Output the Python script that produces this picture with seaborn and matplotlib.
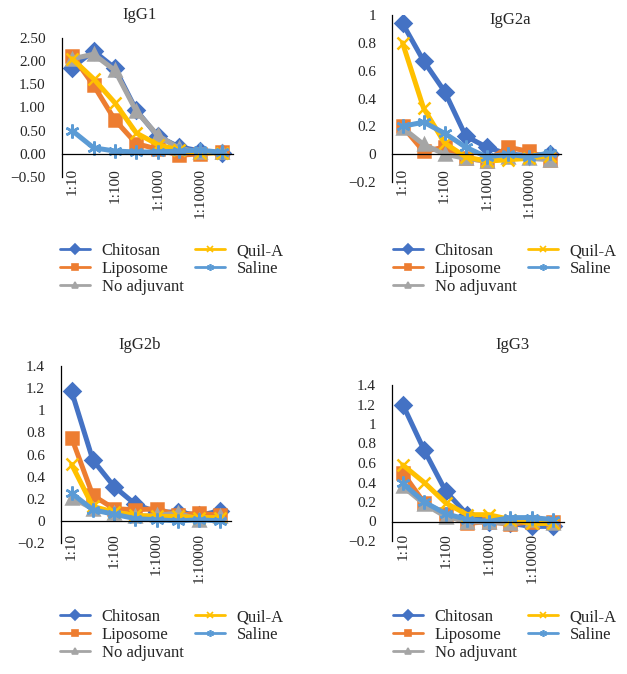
import numpy as np
import pandas as pd
import matplotlib
matplotlib.use("Agg")
import matplotlib.pyplot as plt
import matplotlib.transforms as mtransforms
from matplotlib.lines import Line2D
import seaborn as sns

sns.set_style("white")
plt.rcParams['font.family'] = ['Liberation Serif', 'DejaVu Serif']
plt.rcParams['axes.unicode_minus'] = True

# ---------------- data ----------------
dilutions = ['1:10', '1:30', '1:100', '1:300', '1:1000', '1:3000', '1:10000', '1:30000']
groups = ['Chitosan', 'Liposome', 'No adjuvant', 'Quil-A', 'Saline']

igg1_chitosan = [1.86, 2.22, 1.85, 0.94, 0.38, 0.15, 0.06, 0.02]
igg1_liposome = [2.12, 1.48, 0.73, 0.22, 0.10, -0.03, 0.00, 0.05]
igg1_noadj    = [2.05, 2.15, 1.80, 0.92, 0.40, 0.12, 0.03, 0.03]
igg1_quila    = [2.05, 1.62, 1.10, 0.45, 0.20, 0.08, 0.02, 0.02]
igg1_saline   = [0.50, 0.13, 0.06, 0.04, 0.04, 0.06, 0.08, 0.03]

igg2a_chitosan = [0.94, 0.67, 0.45, 0.13, 0.05, 0.00, -0.01, 0.00]
igg2a_liposome = [0.20, 0.02, 0.05, -0.03, -0.05, 0.05, 0.02, -0.04]
igg2a_noadj    = [0.19, 0.07, 0.00, -0.03, -0.05, -0.02, -0.03, -0.04]
igg2a_quila    = [0.80, 0.33, 0.08, -0.02, -0.05, -0.04, -0.03, -0.01]
igg2a_saline   = [0.20, 0.23, 0.15, 0.05, -0.02, 0.00, -0.02, 0.01]

igg2b_chitosan = [1.17, 0.55, 0.31, 0.15, 0.08, 0.08, 0.05, 0.09]
igg2b_liposome = [0.75, 0.23, 0.11, 0.10, 0.11, 0.05, 0.07, 0.05]
igg2b_noadj    = [0.21, 0.11, 0.07, 0.04, 0.05, 0.07, 0.01, 0.04]
igg2b_quila    = [0.51, 0.13, 0.08, 0.05, 0.04, 0.04, 0.03, 0.03]
igg2b_saline   = [0.25, 0.10, 0.06, 0.02, 0.01, 0.00, 0.01, 0.00]

igg3_chitosan = [1.20, 0.73, 0.31, 0.07, 0.00, -0.02, -0.05, -0.05]
igg3_liposome = [0.50, 0.19, 0.08, -0.02, 0.00, -0.03, 0.00, 0.00]
igg3_noadj    = [0.36, 0.18, 0.05, 0.00, -0.01, -0.02, 0.02, -0.02]
igg3_quila    = [0.58, 0.40, 0.19, 0.07, 0.07, 0.02, -0.02, -0.02]
igg3_saline   = [0.39, 0.20, 0.08, 0.02, 0.00, 0.04, 0.04, 0.02]

titles = ['IgG1', 'IgG2a', 'IgG2b', 'IgG3']
panel_data = [
    [igg1_chitosan, igg1_liposome, igg1_noadj, igg1_quila, igg1_saline],
    [igg2a_chitosan, igg2a_liposome, igg2a_noadj, igg2a_quila, igg2a_saline],
    [igg2b_chitosan, igg2b_liposome, igg2b_noadj, igg2b_quila, igg2b_saline],
    [igg3_chitosan, igg3_liposome, igg3_noadj, igg3_quila, igg3_saline],
]

colors = ['#4472C4', '#ED7D31', '#A5A5A5', '#FFC000', '#5B9BD5']
markers = ['D', 's', '^', 'x', (6, 2, 0)]
msizes = [8, 9, 9, 9, 10]

# ---------------- layout (pixels) ----------------
W, H = 627, 674
fig = plt.figure(figsize=(W / 100, H / 100), dpi=100)

# left, right, top, bottom in pixels
boxes = [(61.5, 232.5, 38, 177), (392, 560.5, 15, 182),
         (61, 231, 366, 543), (392, 564, 385, 541)]
ylims = [(-0.5, 2.5), (-0.2, 1.0), (-0.2, 1.4), (-0.2, 1.4)]
ysteps = [0.5, 0.2, 0.2, 0.2]
yfmt = ['{:.2f}', '{:g}', '{:g}', '{:g}']
label_top = [168, 168, 533, 533]
title_pos = [(140, 15), (510, 20), (140, 345), (512, 345)]
legend_pos = [(60, 243), (393, 243), (60, 609), (393, 609)]

for i in range(4):
    l, r, t, b = boxes[i]
    ax = fig.add_axes([l / W, 1 - b / H, (r - l) / W, (b - t) / H])
    for g, vals, c, m, s in zip(groups, panel_data[i], colors, markers, msizes):
        df = pd.DataFrame({'pos': np.arange(len(dilutions)), 'dil': dilutions, 'val': vals})
        sns.lineplot(data=df, x='pos', y='val', color=c, marker=m, lw=3.6, ms=s,
                     markeredgewidth=1.8, markeredgecolor=c, markerfacecolor=c,
                     ax=ax, sort=False, legend=False)
    for ln in ax.get_lines():
        ln.set_solid_joinstyle('round')

    ax.set_xlim(-0.5, 7.5)
    ax.set_ylim(*ylims[i])
    ax.set_xlabel('')
    ax.set_ylabel('')
    ax.spines['top'].set_visible(False)
    ax.spines['right'].set_visible(False)
    ax.spines['bottom'].set_position(('data', 0))
    for sp in ['left', 'bottom']:
        ax.spines[sp].set_color('black')
        ax.spines[sp].set_linewidth(0.9)
    ax.set_xticks(np.arange(-0.5, 8.0, 1.0))
    ax.set_xticklabels([])
    yt = np.arange(ylims[i][0], ylims[i][1] + 1e-9, ysteps[i])
    ax.set_yticks(yt)
    ax.set_yticklabels([yfmt[i].format(round(v, 2) + 0.0).replace('-', '\u2212') for v in yt])
    ax.tick_params(axis='x', direction='out', length=5, width=0.9, color='black')
    ax.tick_params(axis='y', direction='out', length=3.5, width=0.9, color='black',
                   labelsize=11, pad=8)
    ax.grid(False)
    ax.patch.set_alpha(0)

    trans = mtransforms.blended_transform_factory(ax.transData, fig.transFigure)
    for k in range(0, len(dilutions), 2):
        ax.text(k, 1 - label_top[i] / H, dilutions[k], rotation=90, ha='center',
                va='top', fontsize=11, transform=trans)

    tx, ty = title_pos[i]
    fig.text(tx / W, 1 - ty / H, titles[i], ha='center', va='center', fontsize=12)

    handles = [Line2D([0], [0], color=c, marker=m, lw=2, ms=5, markeredgewidth=1.2)
               for c, m in zip(colors, markers)]
    lx, ly = legend_pos[i]
    fig.legend(handles, groups, loc='upper left', bbox_to_anchor=(lx / W, 1 - ly / H),
               ncol=2, frameon=False, fontsize=12, borderpad=0, borderaxespad=0,
               handlelength=1.8, handletextpad=0.7, columnspacing=0.7,
               labelspacing=0.12)

fig.savefig('out.png', dpi=100)
